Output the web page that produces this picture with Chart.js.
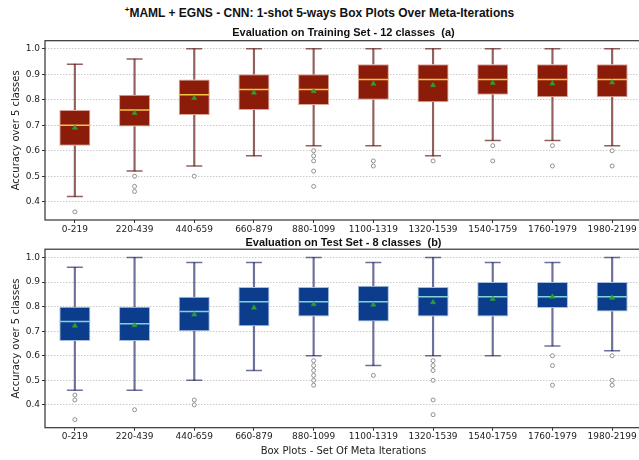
<!DOCTYPE html>
<html>
<head>
<meta charset="utf-8">
<title>MAML + EGNS box plots</title>
<script src="https://cdn.jsdelivr.net/npm/chart.js@4.4.1/dist/chart.umd.min.js"></script>
<style>
  html, body { margin: 0; padding: 0; background: #fff; }
  body { width: 639px; height: 460px; overflow: hidden; position: relative; }
  .suptitle {
    position: absolute; left: 0; top: 6px; width: 639px; text-align: center;
    font: bold 12px/14px "Liberation Sans Narrow", "Liberation Sans", Arial, sans-serif; color: #111;
  }
  .suptitle sup { font-size: 8px; line-height: 0; }
  canvas { position: absolute; left: 0; }
  #train { top: 24px; }
  #test { top: 234px; }
</style>
</head>
<body>
<div class="suptitle"><sup>+</sup>MAML + EGNS - CNN: 1-shot 5-ways Box Plots Over Meta-Iterations</div>
<canvas id="train" width="642" height="214"></canvas>
<canvas id="test" width="642" height="226"></canvas>

<script>
// ===== Data =====
const cats = ['0-219', '220-439', '440-659', '660-879', '880-1099',
              '1100-1319', '1320-1539', '1540-1759', '1760-1979', '1980-2199'];
const yTicks = [0.4, 0.5, 0.6, 0.7, 0.8, 0.9, 1.0];

// (a) training set - 12 classes
const trainLow  = [0.42, 0.52, 0.54, 0.58, 0.62, 0.62, 0.58, 0.64, 0.64, 0.62];
const trainQ1   = [0.62, 0.695, 0.74, 0.76, 0.78, 0.80, 0.79, 0.82, 0.81, 0.81];
const trainMed  = [0.70, 0.76, 0.82, 0.84, 0.84, 0.88, 0.88, 0.88, 0.88, 0.88];
const trainQ3   = [0.76, 0.82, 0.88, 0.90, 0.90, 0.94, 0.94, 0.94, 0.94, 0.94];
const trainHigh = [0.94, 0.96, 1.0, 1.0, 1.0, 1.0, 1.0, 1.0, 1.0, 1.0];
const trainMean = [0.69, 0.748, 0.807, 0.828, 0.834, 0.863, 0.857, 0.866, 0.864, 0.868];
const trainOut  = [[0.36], [0.50, 0.46, 0.44], [0.50], [], [0.60, 0.58, 0.56, 0.52, 0.46],
                   [0.56, 0.54], [0.56], [0.62, 0.56], [0.62, 0.54], [0.60, 0.54]];

// (b) test set - 8 classes
const testLow  = [0.46, 0.46, 0.50, 0.54, 0.60, 0.56, 0.60, 0.60, 0.64, 0.62];
const testQ1   = [0.66, 0.66, 0.70, 0.72, 0.76, 0.74, 0.76, 0.76, 0.795, 0.78];
const testMed  = [0.74, 0.73, 0.78, 0.82, 0.82, 0.82, 0.84, 0.84, 0.84, 0.84];
const testQ3   = [0.80, 0.80, 0.84, 0.88, 0.88, 0.885, 0.88, 0.90, 0.90, 0.90];
const testHigh = [0.96, 1.0, 0.98, 0.98, 1.0, 0.98, 1.0, 0.98, 0.98, 1.0];
const testMean = [0.722, 0.724, 0.768, 0.796, 0.81, 0.808, 0.818, 0.831, 0.84, 0.836];
const testOut  = [[0.44, 0.42, 0.34], [0.38], [0.42, 0.40], [], [0.58, 0.56, 0.54, 0.52, 0.50, 0.48],
                  [0.52], [0.58, 0.56, 0.54, 0.50, 0.42, 0.36], [], [0.60, 0.56, 0.48], [0.60, 0.50, 0.48]];

// ===== Helpers =====
const tickFont = { family: '"DejaVu Sans", sans-serif', size: 9 };
const labelFont = { family: '"DejaVu Sans", sans-serif', size: 10 };
const titleFont = { family: '"Liberation Sans Narrow", "Liberation Sans", Arial, sans-serif', size: 11, weight: 'bold' };

// axes frame (matplotlib spines)
const frame = {
  id: 'frame',
  afterDatasetsDraw(chart) {
    const { ctx, chartArea: a } = chart;
    ctx.save();
    ctx.strokeStyle = '#333';
    ctx.lineWidth = 1.2;
    ctx.strokeRect(a.left, a.top, a.width, a.height);
    ctx.restore();
  }
};

const pts = vals => vals.map((y, i) => ({ x: cats[i], y }));
const flagPoints = lists => lists.flatMap((list, i) => list.map(y => ({ x: cats[i], y })));

function boxChart(id, s) {
  return new Chart(document.getElementById(id), {
    type: 'bar',
    data: {
      labels: cats,
      datasets: [
        { label: 'lower whisker', data: s.low.map((v, i) => [v, s.q1[i]]),
          backgroundColor: s.whisker, barThickness: 1.5, grouped: false, order: 7 },
        { label: 'upper whisker', data: s.q3.map((v, i) => [v, s.high[i]]),
          backgroundColor: s.whisker, barThickness: 1.5, grouped: false, order: 6 },
        { label: 'box', data: s.q1.map((v, i) => [v, s.q3[i]]),
          backgroundColor: s.fill, borderColor: s.edge, borderWidth: 1, borderSkipped: false,
          barPercentage: 0.52, categoryPercentage: 1, grouped: false, order: 5 },
        { type: 'line', label: 'caps', data: pts(s.low).concat(pts(s.high)), showLine: false,
          pointStyle: 'line', pointRadius: 8, pointBorderColor: s.whisker, pointBorderWidth: 1.5, order: 4 },
        { type: 'line', label: 'median', data: pts(s.med), showLine: false,
          pointStyle: 'line', pointRadius: 15.5, pointBorderColor: s.median, pointBorderWidth: 1.5, order: 3 },
        { type: 'line', label: 'mean', data: pts(s.mean), showLine: false,
          pointStyle: 'triangle', pointRadius: 3, pointBackgroundColor: '#2ca02c',
          pointBorderColor: '#2ca02c', pointBorderWidth: 0.5, order: 2 },
        { type: 'line', label: 'outliers', data: flagPoints(s.out), showLine: false,
          pointStyle: 'circle', pointRadius: 2, pointBackgroundColor: '#fff',
          pointBorderColor: '#777', pointBorderWidth: 0.8, order: 1 }
      ]
    },
    options: {
      responsive: false,
      animation: false,
      events: [],
      // the wide "line" points (medians) would otherwise push the plot area in
      layout: { padding: 0, autoPadding: false },
      plugins: {
        legend: { display: false },
        tooltip: { enabled: false },
        title: {
          display: true, text: s.title, fullSize: false, font: titleFont, color: '#111',
          padding: { top: 2, bottom: s.titleGap }
        }
      },
      scales: {
        x: {
          offset: true,
          grid: { display: true, drawOnChartArea: false, offset: false, tickLength: 3, tickColor: '#333', tickWidth: 1 },
          border: { display: false },
          ticks: { font: tickFont, color: '#222', padding: 1, maxRotation: 0, autoSkip: false },
          title: s.xTitle
            ? { display: true, text: s.xTitle, font: labelFont, color: '#222', padding: { top: 0, bottom: 2.5 } }
            : { display: false },
          afterFit: sc => { sc.height = s.xHeight; sc.paddingLeft = 0; sc.paddingRight = 0; }
        },
        y: {
          min: s.yMin, max: s.yMax,
          afterBuildTicks: sc => { sc.ticks = yTicks.map(v => ({ value: v })); },
          ticks: { font: tickFont, color: '#222', padding: 2, callback: v => v.toFixed(1) },
          grid: { color: '#bdbdbd', lineWidth: 0.8, tickLength: 3, tickColor: '#333', tickWidth: 1 },
          border: { display: false, dash: [1.5, 1.5] },
          title: { display: true, text: 'Accuracy over 5 classes', font: labelFont, color: '#222', padding: { top: 10.5, bottom: 0 } },
          afterFit: sc => { sc.width = 45; }
        }
      }
    },
    plugins: [frame]
  });
}

// ===== Charts =====
boxChart('train', {
  title: 'Evaluation on Training Set - 12 classes  (a)', titleGap: 1.5,
  low: trainLow, q1: trainQ1, med: trainMed, q3: trainQ3, high: trainHigh, mean: trainMean, out: trainOut,
  fill: '#8c1c0a', edge: '#dba59c', whisker: 'rgba(100,30,25,0.7)', median: '#f2c644',
  yMin: 0.328, yMax: 1.032, xHeight: 18
});

boxChart('test', {
  title: 'Evaluation on Test Set - 8 classes  (b)', titleGap: 0,
  low: testLow, q1: testQ1, med: testMed, q3: testQ3, high: testHigh, mean: testMean, out: testOut,
  fill: '#0c3d8c', edge: '#a9bde0', whisker: 'rgba(30,35,100,0.65)', median: '#7fd3d8',
  yMin: 0.307, yMax: 1.034, xHeight: 32.3, xTitle: 'Box Plots - Set Of Meta Iterations'
});
</script>
</body>
</html>
